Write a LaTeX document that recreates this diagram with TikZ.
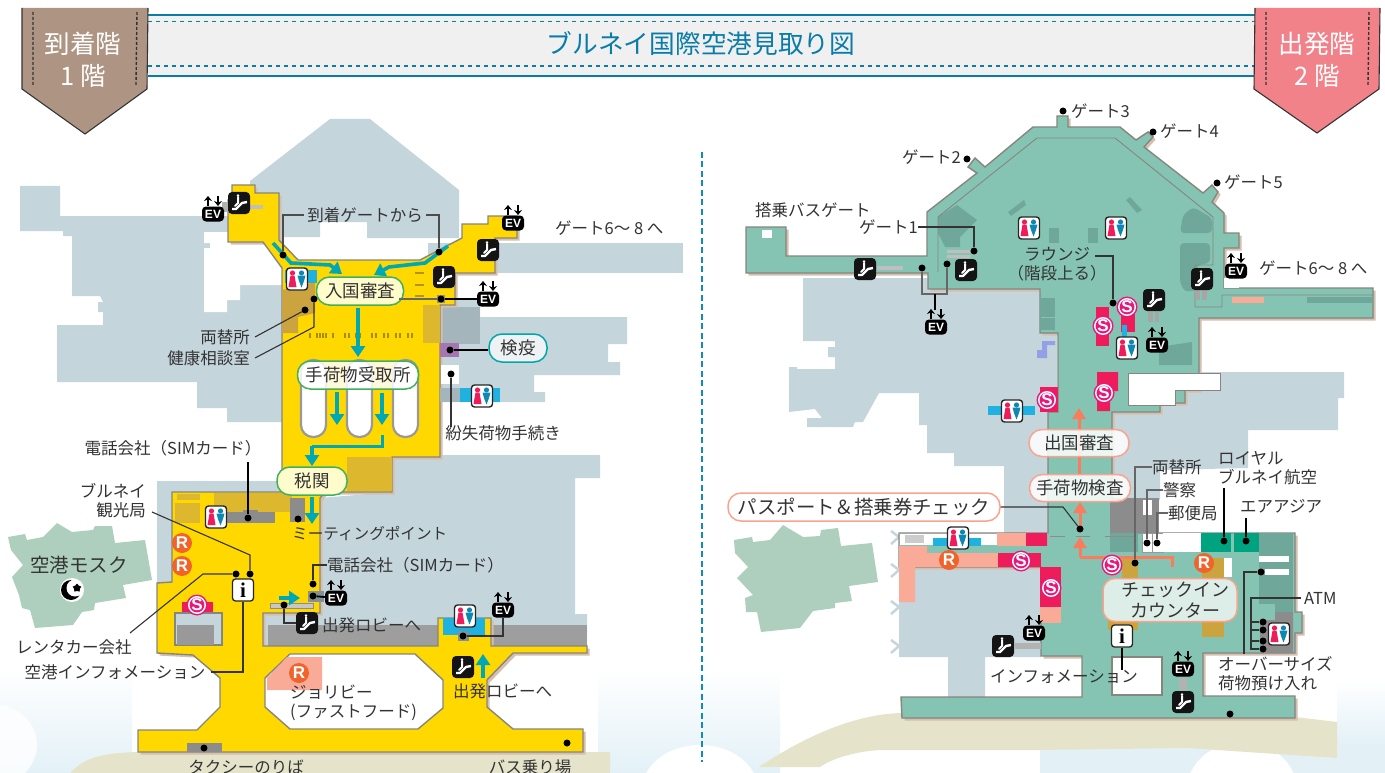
\documentclass[tikz,border=0pt]{standalone}
\usepackage{fontspec}
\setmainfont{Noto Sans CJK JP}
\newfontfamily\iconfont{Liberation Sans}
\newfontfamily\ifont{Liberation Serif}
\usetikzlibrary{arrows.meta,shapes.geometric}
\definecolor{gbl}{HTML}{C5D5DC}
\definecolor{gbd}{HTML}{A4B5BC}
\definecolor{yel}{HTML}{FFD800}
\definecolor{yed}{HTML}{DDB72E}
\definecolor{tan}{HTML}{CBA43F}
\definecolor{tea}{HTML}{85C4B2}
\definecolor{ted}{HTML}{6FA89B}
\definecolor{arr}{HTML}{00A7B5}
\definecolor{oar}{HTML}{F97C5C}
\definecolor{sal}{HTML}{FAAB98}
\definecolor{crm}{HTML}{EE1C5B}
\definecolor{wbl}{HTML}{1FB2E0}
\definecolor{edg}{HTML}{86867E}
\definecolor{shd}{HTML}{D5BFB0}
\definecolor{txt}{HTML}{333333}
\definecolor{mos}{HTML}{AFCFBE}
\definecolor{snd}{HTML}{E6E3CB}
\definecolor{sky}{HTML}{E3F1F7}
\definecolor{hdb}{HTML}{0A7CA8}
\definecolor{dgr}{HTML}{8C8C8C}
\definecolor{grn}{HTML}{00A37F}
\definecolor{tagb}{HTML}{AE9583}
\definecolor{tagp}{HTML}{F2828A}
\definecolor{pnk}{HTML}{E6187C}
\definecolor{org}{HTML}{F0632A}
\tikzset{
 x=1pt,y=-1pt,
 bld/.style={draw=edg,line width=1.4pt,line join=miter,preaction={fill=shd,transform canvas={xshift=2.6pt,yshift=-2.6pt}}},
 lab/.style={font=\fontsize{16.5}{20}\selectfont,text=txt,inner sep=0pt,text height=12.6pt,text depth=0pt},
 labm/.style={font=\fontsize{16.5}{19}\selectfont,text=txt,inner sep=0pt},
 dot/.style={circle,fill=black,inner sep=0pt,minimum size=7pt},
 lead/.style={draw=txt,line width=1.1pt},
 leadb/.style={draw=black,line width=1.8pt},
 pilly/.style={draw=#1,line width=1.5pt,rounded corners=13pt,inner sep=0pt,font=\fontsize{17.5}{20}\selectfont,text=txt},
 tarr/.style={draw=arr,line width=3.6pt,-{Triangle[width=14pt,length=11pt]}},
 oarr/.style={draw=oar,line width=3pt,-{Triangle[width=13pt,length=11pt]}},
 evb/.style={fill=black,rounded corners=4pt,minimum width=22pt,minimum height=15pt,inner sep=0pt,text=white,font=\iconfont\bfseries\fontsize{12}{12}\selectfont},
 esb/.style={fill=black!92,rounded corners=4pt,minimum width=22pt,minimum height=22pt,inner sep=0pt},
 wcb/.style={fill=white,draw=black!85,line width=1.4pt,rounded corners=3pt,minimum width=21pt,minimum height=22pt,inner sep=0pt},
 inb/.style={fill=white,draw=black!85,line width=1.3pt,rounded corners=3pt,minimum width=21pt,minimum height=22pt,inner sep=0pt,font=\ifont\bfseries\fontsize{21}{21}\selectfont},
}
\newcommand{\EvI}[3]{\node[evb] (#1) at (#2,#3) {EV};
 \draw[line width=1.7pt,-{Stealth[length=5pt,width=8pt]}] (#2-5,#3-8) -- (#2-5,#3-18);
 \draw[line width=1.7pt,-{Stealth[length=5pt,width=8pt]}] (#2+5,#3-18) -- (#2+5,#3-8);}
\newcommand{\EsI}[3]{\node[esb] (#1) at (#2,#3) {};
 \begin{scope}[shift={(#2,#3)}]
 \draw[white,line width=2.4pt,line join=round] (-7,6) -- (-3,6) -- (3,0) -- (8,-1);
 \draw[white,line width=2pt,line cap=round] (-1,-6) -- (-1,0) -- (-4,3);
 \fill[white] (-1,-7.5) circle (1.4);
 \end{scope}}
\newcommand{\WcI}[3]{\node[wcb] (#1) at (#2,#3) {};
 \begin{scope}[shift={(#2,#3)}]
 \fill[crm] (-4.5,-6) circle (2.6);
 \fill[crm] (-6.5,-3.5) -- (-2.5,-3.5) -- (-0.5,8) -- (-8.5,8) -- cycle;
 \fill[hdb!80!wbl] (4.5,-6) circle (2.6);
 \fill[hdb!80!wbl] (0.5,-3.5) -- (8.5,-3.5) -- (7,2) -- (4.5,8.5) -- (2,2) -- cycle;
 \end{scope}}
\newcommand{\SI}[3]{\fill[pnk] (#2,#3) circle (10.5);
 \node[circle,draw=white,line width=1.4pt,fill=pnk,minimum size=16.5pt,inner sep=0pt,text=white,font=\iconfont\bfseries\fontsize{17}{17}\selectfont] (#1) at (#2,#3) {S};}
\newcommand{\RI}[3]{\node[circle,fill=org,minimum size=20pt,inner sep=0pt,text=white,font=\iconfont\bfseries\fontsize{17}{17}\selectfont] (#1) at (#2,#3) {R};}
\begin{document}
\begin{tikzpicture}
\clip (0,0) rectangle (1385,773);
\fill[white] (0,0) rectangle (1385,773);
% ---- sky
\shade[top color=white,bottom color=sky] (0,668) rectangle (132,773);
\fill[white,opacity=.8] (-5,745) ellipse (42 and 40);
\shade[top color=white,bottom color=sky] (598,668) rectangle (780,773);
\fill[white] (700,790) ellipse (58 and 45);
\fill[sky] (1040,745) rectangle (1385,773);
\shade[top color=white,bottom color=sky] (1337,680) rectangle (1385,745);
\fill[white] (1242,790) ellipse (55 and 48);
% ---- sand
\fill[snd] (70,773) .. controls (85,758) and (100,753) .. (138,752) -- (610,752) -- (610,773) -- cycle;
\fill[snd] (759,767) .. controls (810,733) and (860,713) .. (905,713) -- (1295,717) -- (1337,722) -- (1337,758) -- (1187,748) -- (1040,750) -- (880,750) .. controls (850,752) and (830,760) .. (820,767) -- cycle;
% ---- mosques
\fill[mos] (8,537)--(25,534)--(27,540)--(43,537)--(57,523)--(72,532)--(93,530)--(95,526)--(112,526)--(115,543)--(145,540)--(152,580)--(123,585)--(126,598)--(95,603)--(94,610)--(82,612)--(73,625)--(35,628)--(30,610)--(22,608)--(19,595)--(12,577)--(23,565)--(11,550)--cycle;
\fill[mos] (734,540)--(752,537)--(753,542)--(770,540)--(783,525)--(803,537)--(820,536)--(821,530)--(838,528)--(841,546)--(872,543)--(878,582)--(849,586)--(852,601)--(835,603)--(835,608)--(813,611)--(800,628)--(761,632)--(757,612)--(746,612)--(745,598)--(753,595)--(737,578)--(748,567)--(735,553)--cycle;
% ---- 1F grey buildings
\fill[gbl] (20,186)--(60,186)--(60,216)--(282,216)--(282,422)--(227,422)--(227,408)--(197,408)--(197,382)--(57,382)--(57,325)--(103,325)--(103,312)--(98,312)--(98,302)--(103,302)--(100,296)--(72,296)--(72,236)--(63,236)--(63,231)--(20,231)--cycle;
\fill[gbl] (250,181)--(330,119)--(370,119)--(459,190)--(459,238)--(367,238)--(367,222)--(320,222)--(320,237)--(250,237)--cycle;
\fill[gbl] (428,243) rectangle (683,273);
\fill[white] (204,232)--(228,232)--(263,242)--(282,268)--(282,285)--(240,285)--(240,300)--(227,300)--(227,312)--(204,312)--(204,248)--(210,248)--(210,243)--(204,243)--cycle;
\fill[gbl] (440,300)--(480,300)--(480,317)--(627,317)--(627,344)--(608,344)--(608,362)--(620,362)--(620,375)--(534,375)--(534,392)--(545,392)--(545,402)--(440,402)--cycle;
\fill[gbd] (442,307) rectangle (480,344);
\fill[gbl] (393,455)--(600,455)--(600,478)--(575,478)--(575,614)--(587,614)--(587,646)--(263,646)--(263,613)--(320,613)--(320,498)--(393,492)--cycle;
\fill[gbl] (157,481) rectangle (295,583);
\fill[black!38] (268,625) rectangle (587,646);
% ---- 1F yellow
\path[bld,fill=yel] (232,185)--(255,185)--(255,193)--(279,193)--(279,240)--(298,260)--(420,260)--(462,238)--(462,224)--(488,224)--(488,216)--(517,216)--(517,238)--(495,238)--(495,273)--(455,273)--(455,305)--(440,305)--(440,457)--(392,457)--(392,492)--(325,492)--(320,498)--(320,613)--(263,613)--(263,646)--(438,646)--(438,618)--(491,618)--(491,646)--(587,646)--(587,653)--(513,653)--(487,680)--(487,707)--(513,729)--(583,729)--(583,752)--(138,752)--(138,730)--(197,730)--(220,707)--(220,678)--(193,655)--(157,653)--(157,583)--(172,582)--(172,492)--(282,492)--(282,268)--(263,242)--(228,242)--(228,200)--(232,200)--cycle;
\draw[draw=edg,line width=1.4pt,fill=white] (290,654)--(415,654)--(443,680)--(443,708)--(418,729)--(290,729)--(265,707)--(265,678)--cycle;
\fill[sal] (287,657)--(322,657)--(322,690)--(267,690)--(267,678)--cycle;
% notches
\draw[edg,line width=1.2pt,fill=gbl] (175,613) rectangle (222,645);
\fill[black!40] (177,625) rectangle (214,645);
\fill[crm] (182,602) rectangle (213,612);
% 1F overlays
\fill[tan] (282,290)--(315,282)--(315,313)--(298,317)--(298,333)--(282,333)--cycle;
\fill[wbl] (285,270) rectangle (317,283);
\fill[yed] (423,305) rectangle (440,343);
\fill[yed] (347,457) rectangle (392,491);
\fill[yed] (177,494) rectangle (200,500);
\fill[yed] (175,503) rectangle (200,523);
\fill[yed] (214,493) rectangle (292,512);
\fill[dgr] (227,512) rectangle (275,523);
\fill[dgr] (243,510) rectangle (258,512);
\fill[dgr] (290,498) rectangle (305,522);
\fill[dgr] (437,295) rectangle (445,303);
\draw[dgr,line width=.8pt,fill=black!22] (270,603) rectangle (313,608);
\fill[gbd!80!black] (308,591) rectangle (324,602);
\fill[black!25] (250,205) rectangle (263,209);
\fill[black!30] (222,202) rectangle (230,212);
\fill[violet!45!gbl] (440,343) rectangle (459,357);
\fill[white] (441,365) rectangle (459,384);
\fill[gbd] (440,388) rectangle (460,402);
\fill[wbl] (460,388) rectangle (500,402);
\fill[wbl] (443,618) rectangle (485,635);
\fill[gbd!80!black] (458,631) rectangle (469,641);
\fill[dgr] (187,743) rectangle (222,752);
\foreach \xx in {309,316,319,322,325,332,344,348,355,359,371,375,383,387,395,399,407,411}{\fill[black!35!yel] (\xx,333) rectangle (\xx+2,338);}
\foreach \yy in {272,284,295}{\fill[yed!80!black] (415,\yy) rectangle (424,\yy+2);}
% carousels
\foreach \xx in {301,347,393}{\draw[black!40,line width=2.2pt,fill=white,rounded corners=12pt] (\xx,360) rectangle (\xx+25,437);}
% ---- 1F arrows
\draw[tarr] (273,243)--(291,263)--(330,265)--(342,274);
\draw[tarr] (448,246)--(425,263)--(389,267)--(374,275);
\draw[tarr] (358,308)--(358,357);
\draw[tarr] (337,392)--(337,425);
\draw[tarr] (382,393)--(382,425);
\draw[draw=arr,line width=3pt] (382,435)--(382,446)--(312,446);
\draw[tarr] (312,446)--(312,466);
\draw[tarr] (312,497)--(312,524);
\draw[tarr] (279,598)--(300,598);
\draw[tarr] (483,678)--(483,654);
% ---- 1F icons
\EsI{e1}{239}{203}\EsI{e2}{488}{250}\EsI{e3}{444}{277}\EsI{e4}{307}{623}\EsI{e5}{463}{667}
\EvI{v1}{213}{214}\EvI{v2}{513}{223}\EvI{v3}{488}{299}\EvI{v4}{336}{598}\EvI{v5}{503}{610}
\WcI{w1}{297}{279}\WcI{w2}{482}{396}\WcI{w3}{216}{517}\WcI{w4}{465}{616}
\RI{r1}{182}{543}\RI{r2}{182}{566}\RI{r3}{299}{673}
\SI{s1}{197}{605}
\node[inb] (i1) at (243,590) {i};
\fill[white] (72,590) circle (12);
\fill[black] (71,590) circle (10);
\fill[white] (75,588) circle (8.5);
\node[star,star points=5,fill=black,inner sep=0pt,minimum size=9pt] (mstar1) at (77,588) {};
% ---- 1F pills
\node[pilly=grn!75!yel,fill=yellow!20,minimum width=87pt,minimum height=28pt] (p1) at (360,291) {入国審査};
\node[pilly=grn!75!yel,fill=white,fill opacity=.85,text opacity=1,minimum width=121pt,minimum height=28pt] (p2) at (358,375) {手荷物受取所};
\node[pilly=grn!75!yel,fill=yellow!20,minimum width=70pt,minimum height=28pt] (p3) at (312,481) {税関};
\node[pilly=arr!80!grn,fill=gbl!30,minimum width=58pt,minimum height=28pt] (p4) at (518,348) {検疫};
% ---- 1F labels and leaders
\node[lab] (a1) at (365,215) {到着ゲートから};
\node[dot] (a1d) at (283,255) {}; \node[dot] (a1e) at (439,252) {};
\draw[lead,draw=black!70] (a1d) |- ([xshift=-3pt]a1.west);
\draw[lead,draw=black!70] (a1e) |- ([xshift=3pt]a1.east);
\node[lab,anchor=west] (a2) at (555,228) {ゲート6〜 8 へ};
\node[lab,anchor=east] (a3) at (250,337) {両替所};
\node[dot] (a3d) at (305,310) {};
\draw[lead] ([xshift=5pt]a3.east) -- (a3d);
\node[lab,anchor=east] (a4) at (250,358) {健康相談室};
\node[dot] (a4d) at (314,299) {};
\coordinate (a4k) at (314,327);
\draw[lead] ([xshift=5pt]a4.east) -- (a4k) -- (a4d);
\node[dot] (a5) at (441,299) {};
\draw[draw=black!60,line width=1.4pt] ([xshift=-5pt]a5-|p1.east) -- (a5);
\draw[leadb] (a5) -- (v3);
\node[dot] (a6) at (450,350) {};
\draw[leadb] (a6) -- (a6-|p4.west);
\node[dot] (a7) at (451,374) {};
\node[lab] (a7l) at (503,433) {紛失荷物手続き};
\draw[lead] (a7) -- (a7|-a7l.north);
\node[lab] (a8) at (173,448) {電話会社（SIMカード）};
\node[dot] (a8d) at (248,518) {};
\coordinate (a8k) at (248,462);
\draw[leadb] (a8d) -- (a8k);
\node[labm,align=right,anchor=east] (a9) at (146,501) {ブルネイ\\観光局};
\node[dot] (a9d) at (250,574) {};
\coordinate (a9k) at (250,555);
\draw[lead] ([shift={(6pt,-11pt)}]a9.east) -- (a9k) -- (a9d);
\node[lab] (a10) at (74,647) {レンタカー会社};
\node[dot] (a10d) at (236,574) {};
\coordinate (a10k) at (203,574);
\coordinate (a10s) at (130,633);
\draw[lead] (a10s) -- (a10k) -- (a10d);
\node[lab] (a11) at (115,672) {空港インフォメーション};
\draw[lead] ([xshift=5pt]a11.east) -| (i1.south);
\node[lab,anchor=west,font=\fontsize{15.6}{20}\selectfont] (a12) at (292,533) {ミーティングポイント};
\node[dot] (a12d) at (298,519) {};
\node[lab,anchor=west] (a13) at (327,565) {電話会社（SIMカード）};
\node[dot] (a13d) at (313,584) {};
\draw[lead] (a13d) |- (a13.west);
\node[dot] (a14) at (313,596) {};
\draw[leadb] (a14) -- (v4);
\node[dot] (a15) at (284,605) {};
\draw[lead] (a15) |- (e4.west);
\node[lab,anchor=west] (a16) at (322,625) {出発ロビーへ};
\node[dot] (a17) at (463,636) {};
\draw[lead] (a17) -| (v5.south);
\node[lab,anchor=west] (a18) at (453,691) {出発ロビーへ};
\node[labm,anchor=north west,align=left] (a19) at (290,685) {ジョリビー\\(ファストフード)};
\node[lab] (a20) at (246,767) {タクシーのりば};
\node[dot] (a20d) at (204,748) {};
\node[lab] (a21) at (530,767) {バス乗り場};
\node[dot] (a21d) at (567,743) {};
\node[lab,font=\fontsize{19.5}{22}\selectfont,text height=15pt] (a22) at (79,565) {空港モスク};
% ---- 2F grey
\fill[gbl] (803,278)--(1040,278)--(1040,333)--(1057,333)--(1057,540)--(1004,540)--(1004,466)--(954,466)--(954,453)--(927,453)--(927,425)--(919,425)--(919,393)--(879,393)--(863,422)--(855,422)--(853,427)--(807,427)--(807,418)--(822,418)--(815,409)--(789,412)--(789,367)--(797,367)--(797,369)--(835,369)--(835,357)--(828,357)--(828,347)--(835,347)--(835,341)--(803,341)--cycle;
\fill[gbl] (1112,405)--(1199,372)--(1344,372)--(1344,398)--(1338,398)--(1338,430)--(1248,430)--(1248,468)--(1160,470)--(1160,500)--(1112,500)--cycle;
\fill[gbl] (899,540)--(1041,540)--(1041,657)--(985,657)--(985,697)--(948,697)--(948,657)--(899,657)--cycle;
\foreach \yy in {537,570,607,646}{\draw[gbl,line width=2.5pt] (891,\yy-6)--(899,\yy)--(891,\yy+7);}
\fill[blue!25!gbl] (1037,350)--(1042,350)--(1042,341)--(1055,341)--(1055,345)--(1047,345)--(1047,358)--(1037,358)--cycle;
% ---- 2F teal
\path[bld,fill=tea] (746,227)--(786,227)--(786,256)--(927,256)--(927,212)--(977,173)--(968,167)--(975,158)--(985,167)--(1033,127)--(1057,127)--(1057,116)--(1068,116)--(1068,127)--(1120,127)--(1136,140)--(1148,132)--(1153,137)--(1144,147)--(1203,193)--(1212,185)--(1218,192)--(1212,202)--(1224,213)--(1224,233)--(1239,233)--(1239,248)--(1224,248)--(1224,288)--(1373,288)--(1373,318)--(1199,318)--(1199,390)--(1185,390)--(1185,403)--(1160,403)--(1160,412)--(1112,412)--(1112,533)--(1295,533)--(1295,612)--(1302,612)--(1302,633)--(1295,633)--(1295,653)--(1203,653)--(1203,696)--(1295,696)--(1295,718)--(902,718)--(901,697)--(1082,697)--(1082,656)--(1041,656)--(1041,567)--(899,567)--(899,533)--(1048,533)--(1048,412)--(1058,412)--(1058,333)--(1040,333)--(1040,289)--(928,289)--(928,273)--(746,273)--cycle;
\fill[white] (1112,657) rectangle (1162,695);
\draw[edg,line width=1.2pt] (1112,657) rectangle (1162,695);
\fill[white] (1224,278) rectangle (1239,288);
\fill[white] (762,230) rectangle (772,238);
% darker teal
\fill[ted] (957,205)--(977,220)--(960,237)--(960,247)--(945,247)--(938,233)--(938,217)--cycle;
\fill[ted] (1008,212)--(1024,200)--(1026,205)--(1011,216)--cycle;
\fill[ted] (1049,228) rectangle (1059,243);
\fill[ted] (1088,228) rectangle (1098,243);
\fill[ted] (1040,298) rectangle (1055,317);
\fill[ted] (1040,318) rectangle (1055,330);
\fill[ted] (1126,200)--(1130,197)--(1142,210)--(1137,213)--cycle;
\fill[ted,rounded corners=4pt] (1180,233)--(1183,215)--(1193,207)--(1212,218)--(1212,233)--cycle;
\fill[ted,rounded corners=4pt] (1180,243)--(1210,243)--(1210,263)--(1197,265)--(1197,290)--(1185,292)--(1180,283)--cycle;
\fill[ted] (1159,347)--(1192,342)--(1192,365)--(1159,365)--cycle;
\draw[edg,line width=.9pt] (938,272)--(938,217)--(1037,138)--(1115,138)--(1213,217)--(1213,265)--(1195,265)--(1195,307)--(1222,307)--(1222,295)--(1373,295);
\fill[sal] (1232,297) rectangle (1264,303);
\fill[ted] (1307,297) rectangle (1373,303);
% white blocks
\draw[edg,line width=.9pt,fill=white] (1128,373)--(1220,373)--(1220,390)--(1175,390)--(1175,405)--(1128,405)--cycle;
% lower strip
\fill[white] (899,533) rectangle (1047,545);
\draw[black!35,line width=.8pt] (899,533) rectangle (1047,546);
\fill[black!20] (905,535) rectangle (924,543);
\fill[wbl] (933,538) rectangle (981,546);
\fill[sal] (997,533) rectangle (1026,546);
\fill[crm] (1026,533) rectangle (1047,546);
\fill[tea] (927,546) rectangle (1048,553);
\fill[sal] (899,546)--(927,546)--(927,553)--(998,553)--(998,567)--(915,567)--(915,602)--(899,602)--cycle;
\fill[crm] (998,553) rectangle (1041,567);
\fill[crm] (1040,567) rectangle (1061,607);
\fill[sal] (1040,607) rectangle (1061,623);
\fill[crm] (1096,307) rectangle (1109,346);
\fill[crm] (1121,307) rectangle (1135,332);
\fill[wbl] (1122,325) rectangle (1127,337);
\fill[crm] (1097,372)--(1118,372)--(1118,391)--(1110,391)--(1110,411)--(1097,411)--cycle;
\fill[crm] (1040,387) rectangle (1058,412);
\fill[wbl] (988,406) rectangle (1035,415);
% right part of check-in hall
\fill[dgr] (1110,498) rectangle (1159,533);
\fill[white] (1143,500) rectangle (1152,515);
\fill[ted] (1110,533) rectangle (1138,552);
\draw[black!40,line width=.8pt,fill=white] (1142,533) rectangle (1152,552);
\draw[black!40,line width=.8pt,fill=white] (1152,533) rectangle (1163,552);
\fill[white] (1163,533) rectangle (1201,552);
\fill[grn] (1201,533) rectangle (1231,552);
\fill[grn] (1234,533) rectangle (1259,552);
\fill[ted] (1259,533) rectangle (1293,612);
\fill[white] (1259,556) rectangle (1289,562);
\fill[white] (1265,569) rectangle (1289,575);
\fill[tea] (1253,604) rectangle (1275,612);
\fill[dgr] (1275,612)--(1293,612)--(1293,653)--(1260,653)--(1260,620)--(1275,620)--cycle;
\fill[tan] (1122,558) rectangle (1138,578);
\fill[tan] (1108,620) rectangle (1138,630);
\fill[tan] (1202,558) rectangle (1224,578);
\fill[tan] (1202,620) rectangle (1224,637);
\fill[white] (1224,558) rectangle (1232,577);
% grey connectors
\fill[black!25] (877,266) rectangle (903,270);
\fill[black!25] (947,250) rectangle (970,253);
\fill[black!25] (947,255) rectangle (970,258);
\fill[black!35] (1195,290) rectangle (1200,300);\fill[black!35] (1202,290) rectangle (1207,300);
\fill[black!35] (1148,312) rectangle (1153,322);\fill[black!35] (1155,312) rectangle (1159,322);
\fill[black!30] (1015,643) rectangle (1041,649);
\fill[black!30] (1179,678) rectangle (1187,690);
\foreach \xx/\xy in {1050/1065,1076/1090,1105/1135}{\draw[black!45,line width=1pt] (\xx,536)--(\xy,536);}
% ---- 2F arrows
\draw[oarr] (1079,475)--(1079,408);
\draw[oarr] (1080,530)--(1080,502);
\draw[draw=oar,line width=3pt] (1172,567)--(1172,557)--(1080,557);
\draw[oarr] (1080,557)--(1080,537);
% ---- 2F icons
\EsI{f1}{865}{269}\EsI{f2}{966}{270}\EsI{f3}{1202}{279}\EsI{f4}{1154}{300}\EsI{f5}{1003}{646}\EsI{f6}{1183}{702}
\EvI{g1}{936}{327}\EvI{g2}{1236}{271}\EvI{g3}{1157}{345}\EvI{g4}{1034}{633}\EvI{g5}{1183}{669}
\WcI{h1}{1029}{228}\WcI{h2}{1116}{228}\WcI{h3}{1127}{348}\WcI{h4}{1012}{411}\WcI{h5}{958}{538}\WcI{h6}{1279}{634}
\SI{t1}{1103}{326}\SI{t2}{1127}{307}\SI{t3}{1104}{393}\SI{t4}{1047}{400}\SI{t5}{1021}{561}\SI{t6}{1051}{588}\SI{t7}{1112}{565}
\RI{u1}{949}{560}\RI{u2}{1204}{563}
\node[inb] (i2) at (1122,636) {i};
% ---- 2F pills
\node[pilly=oar!70!white,fill=white,fill opacity=.85,text opacity=1,minimum width=100pt,minimum height=27pt] (q1) at (1079,443) {出国審査};
\node[pilly=oar!70!white,fill=white,fill opacity=.85,text opacity=1,minimum width=101pt,minimum height=27pt] (q2) at (1080,488) {手荷物検査};
\node[pilly=oar!70!white,fill=white,fill opacity=.95,text opacity=1,minimum width=272pt,minimum height=28pt,font=\fontsize{19.4}{20}\selectfont] (q3) at (864,507) {パスポート＆搭乗券チェック};
\node[pilly=oar!70!white,fill=white,fill opacity=.72,text opacity=1,rounded corners=12pt,minimum width=134pt,minimum height=43pt,font=\fontsize{18}{21}\selectfont,align=center] (q4) at (1170,600) {\hspace*{10pt}チェックイン\\\hspace*{10pt}カウンター};
% ---- 2F labels and leaders
\node[lab,anchor=west] (b1) at (1071,111) {ゲート3}; \node[dot] (b1d) at (1063,111) {};
\node[lab,anchor=west] (b2) at (1160,131) {ゲート4}; \node[dot] (b2d) at (1153,132) {};
\node[lab,anchor=west] (b3) at (1224,182) {ゲート5}; \node[dot] (b3d) at (1217,183) {};
\node[lab,anchor=east] (b4) at (961,157) {ゲート2}; \node[dot] (b4d) at (967,159) {};
\node[lab,anchor=east] (b5) at (918,227) {ゲート1}; \node[dot] (b5d) at (974,251) {};
\draw[lead] (b5.east) -| (b5d);
\node[lab,anchor=west] (b6) at (755,210) {搭乗バスゲート};
\node[lab,anchor=west] (b7) at (1259,268) {ゲート6〜 8 へ};
\node[labm,align=center] (b8) at (1057,264) {ラウンジ\\（階段上る）};
\node[dot] (b8d) at (1113,303) {};
\coordinate (b8k) at (1113,256);
\coordinate (b8s) at (1095,256);
\draw[lead] (b8s) -- (b8k) -- (b8d);
\node[dot] (b9) at (922,268) {}; \node[dot] (b10) at (947,264) {};
\coordinate (b9k) at (922,294); \coordinate (b10k) at (947,294); \coordinate (b11) at (935,294);
\draw[draw=black!60,line width=1.1pt] (b9) -- (b9k) -- (b10k) -- (b10);
\draw[leadb] (b11) -- (935,310);
\node[dot] (b12) at (1080,529) {};
\coordinate (b12k) at (1063,507);
\draw[lead] (q3.east) -- (b12k) -- (b12);
\node[lab,anchor=west] (b13) at (1152,467) {両替所}; \node[dot] (b13d) at (1135,563) {};
\draw[draw=black!60,line width=1.1pt] (b13.west) -| (b13d);
\node[lab,anchor=west] (b14) at (1163,490) {警察}; \node[dot] (b14d) at (1147,543) {};
\draw[draw=black!60,line width=1.1pt] (b14.west) -| (b14d);
\node[lab,anchor=west] (b15) at (1168,513) {郵便局}; \node[dot] (b15d) at (1157,543) {};
\draw[draw=black!60,line width=1.1pt] (b15.west) -| (b15d);
\node[labm,anchor=west,align=left] (b16) at (1218,468) {ロイヤル\\ブルネイ航空};
\node[dot] (b16d) at (1224,541) {};
\coordinate (b16k) at (1224,488);
\draw[leadb] (b16d) -- (b16k);
\node[lab,anchor=west] (b17) at (1240,506) {エアアジア};
\node[dot] (b17d) at (1246,541) {};
\coordinate (b17k) at (1246,518);
\draw[leadb] (b17d) -- (b17k);
\node[lab,anchor=west] (b18) at (1304,598) {ATM};
\foreach \nm/\yy in {c1/622,c2/630,c3/641,c4/649}{\node[dot] (\nm) at (1263,\yy) {};}
\coordinate (b18k) at (1251,598);
\draw[lead] ([xshift=-3pt]b18.west) -- (b18k) |- (c4);
\draw[lead] (b18k) |- (c1);\draw[lead] (b18k) |- (c2);\draw[lead] (b18k) |- (c3);
\node[labm,anchor=west,align=left] (b19) at (1218,674) {オーバーサイズ\\荷物預け入れ};
\node[dot] (b19d) at (1261,572) {};
\coordinate (b19k) at (1244,654);
\draw[lead] (b19d) -| (b19k);
\node[lab,anchor=west] (b20) at (990,676) {インフォメーション};
\draw[leadb] (i2.south) -- (i2.south|-b20.north);
\node[dot] (b21) at (1230,714) {};
% ---- divider
\coordinate (dv1) at (702,152); \coordinate (dv2) at (702,762);
\draw[draw=hdb!70!wbl,line width=1.1pt,dash pattern=on 6pt off 3.5pt] (dv1) -- (dv2);
% ---- header
\fill[black!6] (148,15) rectangle (1255,76);
\draw[hdb,line width=1.2pt] (148,15) -- (1255,15) (148,76) -- (1255,76);
\draw[hdb,line width=1.6pt,dash pattern=on 3.5pt off 4.5pt] (148,21.5) -- (1255,21.5) (148,66) -- (1255,66);
\node[text=hdb,font=\fontsize{25.7}{28}\selectfont,inner sep=0pt] (title) at (701,44) {ブルネイ国際空港見取り図};
\fill[tagb] (22,8) -- (22,89) -- (85,134) -- (147,89) -- (148,8) -- cycle;
\draw[txt,line width=1.1pt] (22,8) -- (22,89) -- (85,134) -- (147,89) -- (148,8);
\fill[tagp] (1255,8) -- (1254,89) -- (1317,133) -- (1379,89) -- (1380,8) -- cycle;
\draw[txt,line width=1.1pt] (1255,8) -- (1254,89) -- (1317,133) -- (1379,89) -- (1380,8);
\draw[txt,line width=1.4pt,dash pattern=on 3pt off 2pt] (33,12)--(33,85) (137,12)--(136,85) (1266,12)--(1266,85) (1369,12)--(1368,85);
\node[text=white,font=\fontsize{25.5}{32}\selectfont,align=center,inner sep=0pt] (t1f) at (83,60) {到着階\\1 階};
\node[text=white,font=\fontsize{25.5}{32}\selectfont,align=center,inner sep=0pt] (t2f) at (1317,60) {出発階\\2 階};
\end{tikzpicture}
\end{document}
